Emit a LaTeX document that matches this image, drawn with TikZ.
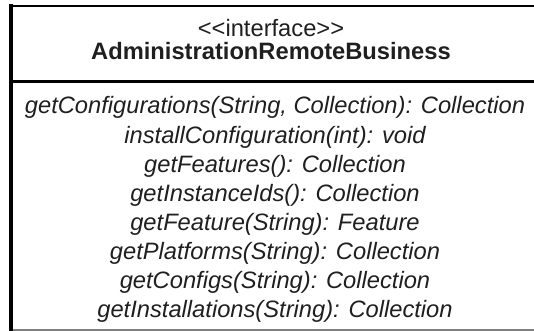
\documentclass[tikz,border=0pt]{standalone}
\usepackage{fontspec}
\setmainfont[Ligatures=TeXOff]{Liberation Sans}
\begin{document}
\begin{tikzpicture}[x=1pt,y=-1pt,
  umltext/.style={anchor=base,inner sep=0pt,text=black!88,
    font=\fontsize{23.7}{29}\selectfont},
  opname/.style={umltext,font=\fontsize{23.7}{29}\selectfont\itshape},
  frame/.style={draw=black,line cap=rect}]
\useasboundingbox (0,0) rectangle (534,331);
% class box: left edge, top edge, header separator; right side runs off the page
\coordinate (tl) at (11,6);
\coordinate (tr) at (560,6);
\coordinate (sl) at (11,81.5);
\coordinate (sr) at (560,81.5);
\coordinate (bl) at (11,330);
\coordinate (br) at (560,330);
\draw[frame,line width=2.2pt] (tl) -- (tr);
\draw[frame,line width=2.4pt] (sl) -- (sr);
\draw[draw=black!50,line width=2pt] (bl) -- (br);
\draw[frame,line width=3.2pt] (tl) -- (bl);
% header
\node[umltext] (stereo) at (271,37) {<<interface>>};
\node[umltext,font=\fontsize{23.7}{29}\selectfont\bfseries] (name) at (271,60) {AdministrationRemoteBusiness};
% operations
\node[opname] (op1) at (275,114) {getConfigurations(String, Collection): Collection};
\node[opname] (op2) at (275,143) {installConfiguration(int): void};
\node[opname] (op3) at (275,172) {getFeatures(): Collection};
\node[opname] (op4) at (275,201) {getInstanceIds(): Collection};
\node[opname] (op5) at (275,230) {getFeature(String): Feature};
\node[opname] (op6) at (275,259) {getPlatforms(String): Collection};
\node[opname] (op7) at (275,288) {getConfigs(String): Collection};
\node[opname] (op8) at (275,317) {getInstallations(String): Collection};
\end{tikzpicture}
\end{document}
